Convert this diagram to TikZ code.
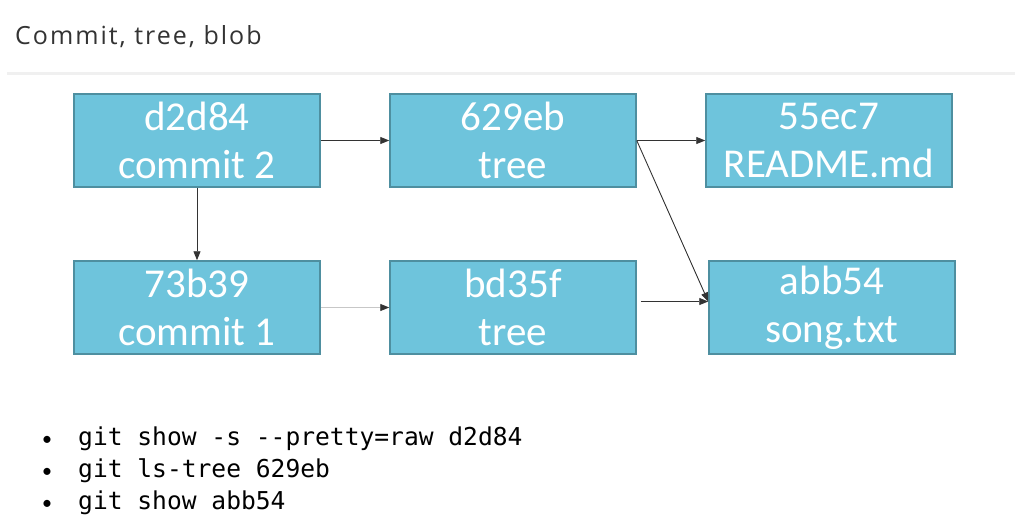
\documentclass[tikz,border=0pt]{standalone}
\usepackage{fontspec}
\setmainfont{Carlito}
\newfontfamily\titlefont[LetterSpace=8]{Open Sans}
\newfontfamily\codefont{DejaVu Sans Mono}
\usetikzlibrary{arrows.meta}
\definecolor{boxfill}{HTML}{6EC4DC}
\definecolor{boxline}{HTML}{4E8FA0}
\definecolor{rulegray}{HTML}{F0F0F0}
\definecolor{linkgray}{HTML}{333333}
\tikzset{
  objbox/.style={rectangle, draw=boxline, line width=1.5pt, fill=boxfill,
    minimum width=246pt, minimum height=93pt, inner sep=0pt,
    text=white, align=center, font=\fontsize{41}{48}\selectfont},
  link/.style={draw=linkgray, line width=0.9pt, -{Triangle[length=9pt,width=7pt,color=linkgray]}},
  codeline/.style={anchor=base west, inner sep=0pt, font=\codefont\fontsize{24.6}{30}\selectfont},
  bullet/.style={anchor=base, inner sep=0pt, font=\fontsize{20}{30}\selectfont}
}
\begin{document}
\begin{tikzpicture}[x=1pt,y=-1pt]
\useasboundingbox (0,0) rectangle (1015,532);
\fill[white] (0,0) rectangle (1015,532);
% heading and rule
\node[anchor=base west, inner sep=0pt, text=black!80, font=\titlefont\fontsize{25}{28}\selectfont] (title) at (15,45) {Commit, tree, blob};
\fill[rulegray] (7,72) rectangle (1015,75);
% objects
\node[objbox] (commitTwo) at (197,140.5) {d2d84\\commit 2};
\node[objbox] (treeTwo) at (513,140.5) {629eb\\tree};
\node[objbox] (readme) at (829,140.5) {55ec7\\README.md};
\node[objbox] (commitOne) at (197,307.5) {73b39\\commit 1};
\node[objbox] (treeOne) at (513,307.5) {bd35f\\tree};
\node[objbox] (song) at (832,307.5) {abb54\\song.txt};
% links
\draw[link] (commitTwo.east) -- (treeTwo.west);
\draw[link] (treeTwo.east) -- (readme.west);
\draw[link] (commitTwo.south) -- (commitOne.north);
\draw[link, draw=black!22] (commitOne.east) -- (treeOne.west);
\draw[link] ([xshift=4pt,yshift=6pt]treeOne.east) -- ([yshift=6pt]song.west);
\draw[link] (treeTwo.east) -- ([yshift=6pt]song.west);
% commands
\node[bullet] (b1) at (47,445) {•};
\node[bullet] (b2) at (47,477) {•};
\node[bullet] (b3) at (47,509) {•};
\node[codeline] (c1) at (78,445) {git show -s --pretty=raw d2d84};
\node[codeline] (c2) at (78,477) {git ls-tree 629eb};
\node[codeline] (c3) at (78,509) {git show abb54};
\end{tikzpicture}
\end{document}
